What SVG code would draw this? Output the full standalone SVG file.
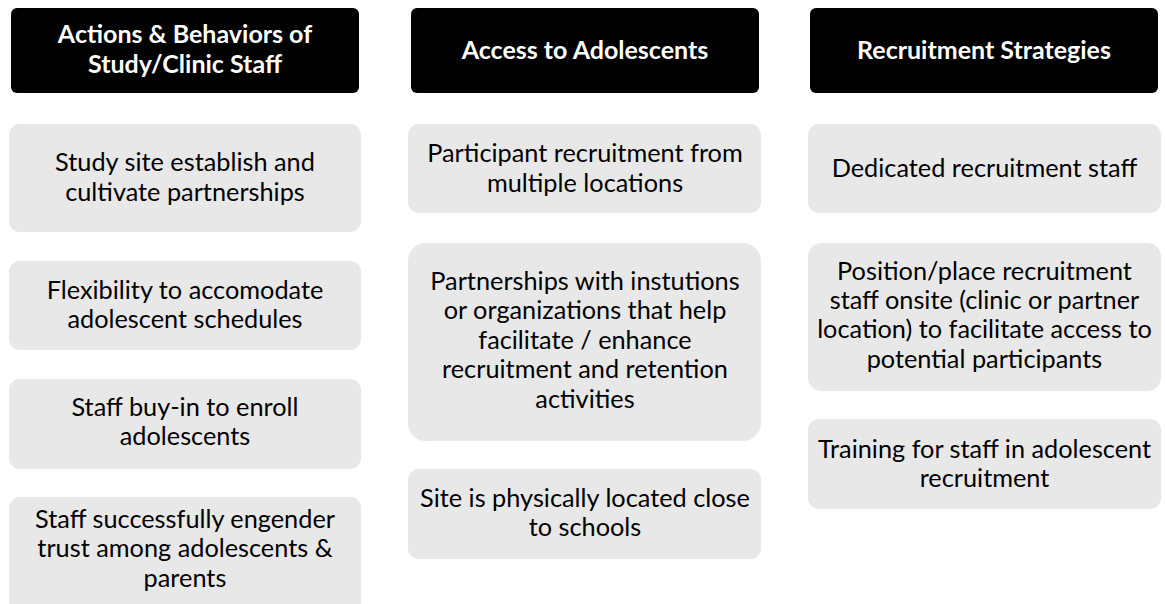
<svg xmlns="http://www.w3.org/2000/svg" width="1165" height="604" viewBox="0 0 1165 604">
<style>
.hdr{fill:#000000}
.box{fill:#e8e8e8}
.ht{font-family:Lato,"Liberation Sans",sans-serif;font-weight:bold;font-size:25px;fill:#ffffff;text-anchor:middle}
.bt{font-family:Lato,"Liberation Sans",sans-serif;font-size:25.3px;fill:#000000;text-anchor:middle}
</style>
<rect width="1165" height="604" fill="#ffffff"/>
<g id="h1"><rect class="hdr" x="11" y="8" width="348" height="85" rx="6"/><text class="ht" x="185" y="43">Actions &amp; Behaviors of</text><text class="ht" x="185" y="73">Study/Clinic Staff</text></g>
<g id="h2"><rect class="hdr" x="411" y="8" width="348" height="85" rx="6"/><text class="ht" x="585" y="59">Access to Adolescents</text></g>
<g id="h3"><rect class="hdr" x="810" y="8" width="348" height="85" rx="6"/><text class="ht" x="984" y="59">Recruitment Strategies</text></g>

<g id="a1"><rect class="box" x="9" y="124" width="352" height="108" rx="11"/><text class="bt" x="185" y="171">Study site establish and</text><text class="bt" x="185" y="201">cultivate partnerships</text></g>
<g id="a2"><rect class="box" x="9" y="261" width="352" height="89" rx="11"/><text class="bt" x="185" y="299">Flexibility to accomodate</text><text class="bt" x="185" y="328">adolescent schedules</text></g>
<g id="a3"><rect class="box" x="9" y="379" width="352" height="90" rx="11"/><text class="bt" x="185" y="416">Staff buy-in to enroll</text><text class="bt" x="185" y="445">adolescents</text></g>
<g id="a4"><rect class="box" x="9" y="497" width="352" height="120" rx="11"/><text class="bt" x="185" y="528">Staff successfully engender</text><text class="bt" x="185" y="557">trust among adolescents &amp;</text><text class="bt" x="185" y="587">parents</text></g>

<g id="b1"><rect class="box" x="408" y="124" width="353" height="89" rx="11"/><text class="bt" x="585" y="162">Participant recruitment from</text><text class="bt" x="585" y="192">multiple locations</text></g>
<g id="b2"><rect class="box" x="408" y="243" width="353" height="198" rx="18"/><text class="bt" x="585" y="290">Partnerships with instutions</text><text class="bt" x="585" y="319">or organizations that help</text><text class="bt" x="585" y="349">facilitate / enhance</text><text class="bt" x="585" y="378">recruitment and retention</text><text class="bt" x="585" y="408">activities</text></g>
<g id="b3"><rect class="box" x="408" y="469" width="353" height="90" rx="11"/><text class="bt" x="585" y="507">Site is physically located close</text><text class="bt" x="585" y="536">to schools</text></g>

<g id="c1"><rect class="box" x="808" y="124" width="353" height="89" rx="11"/><text class="bt" x="984.5" y="177">Dedicated recruitment staff</text></g>
<g id="c2"><rect class="box" x="808" y="243" width="353" height="148" rx="14"/><text class="bt" x="984.5" y="280">Position/place recruitment</text><text class="bt" x="984.5" y="309">staff onsite (clinic or partner</text><text class="bt" x="984.5" y="338">location) to facilitate access to</text><text class="bt" x="984.5" y="368">potential participants</text></g>
<g id="c3"><rect class="box" x="808" y="419" width="353" height="90" rx="11"/><text class="bt" x="984.5" y="458">Training for staff in adolescent</text><text class="bt" x="984.5" y="487">recruitment</text></g>
<g id="connectors"/>
</svg>
